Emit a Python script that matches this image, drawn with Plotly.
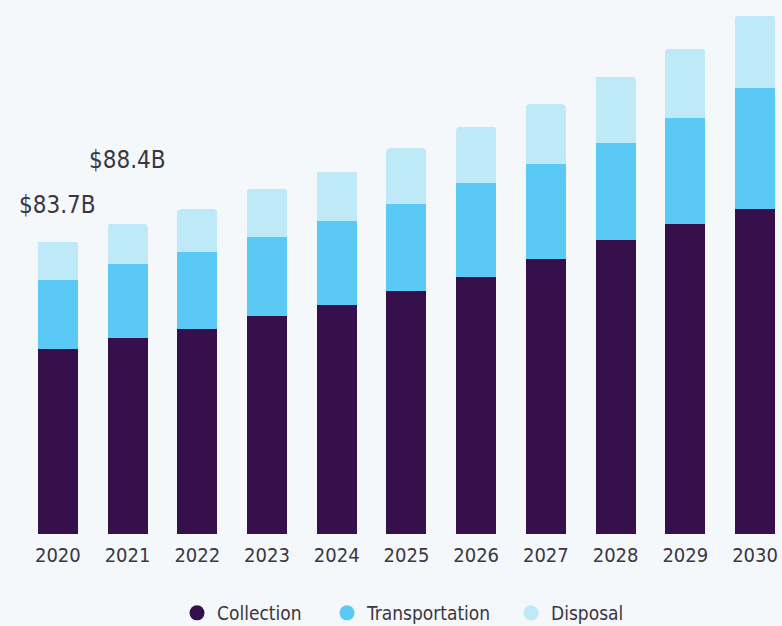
import plotly.graph_objects as go

years = ["2020", "2021", "2022", "2023", "2024", "2025", "2026", "2027", "2028", "2029", "2030"]
collection = [52.9, 56.1, 58.8, 62.6, 65.6, 69.7, 73.7, 78.9, 84.2, 88.9, 93.0]
transportation = [19.9, 21.2, 22.1, 22.5, 24.0, 25.0, 27.0, 27.1, 27.8, 30.2, 34.7]
disposal = [11.0, 11.5, 12.1, 13.8, 14.2, 15.8, 15.9, 17.1, 19.1, 19.8, 20.8]
value_labels = {"2020": "$83.7B", "2021": "$88.4B"}
label_shift = {"2020": 37, "2021": 64}

series_names = ["Collection", "Transportation", "Disposal"]
colors = ["#36104a", "#5bc9f5", "#bde9f9"]
FONT = '"Liberation Sans Narrow", "Arial Narrow", "DejaVu Sans Condensed", Roboto, sans-serif'
TEXT = "#3b3641"
BG = "#f4f8fb"
legend_ids = ["legend", "legend2", "legend3"]
legend_left_px = [177, 327, 511]

fig = go.Figure()
for name, vals, c in zip(series_names, [collection, transportation, disposal], colors):
    fig.add_trace(go.Bar(x=years, y=vals, name=name, marker=dict(color=c, line=dict(width=0)),
                         showlegend=False, hoverinfo="skip"))
for name, c, lid in zip(series_names, colors, legend_ids):
    fig.add_trace(go.Scatter(x=[None], y=[None], mode="markers", name=name, legend=lid,
                             marker=dict(symbol="circle", size=15, color=c)))

totals = [a + b + d for a, b, d in zip(collection, transportation, disposal)]
for yr, txt in value_labels.items():
    i = years.index(yr)
    fig.add_annotation(x=i, y=totals[i], text=txt, showarrow=False, yanchor="middle",
                       yshift=label_shift[yr], font=dict(family=FONT, size=24, color=TEXT))

legend_common = dict(orientation="h", yref="container", xref="container", y=1 - 613 / 626,
                     yanchor="middle", xanchor="left",
                     font=dict(family=FONT, size=19, color=TEXT), bgcolor="rgba(0,0,0,0)")
layout_legends = {lid: dict(legend_common, x=px / 782) for lid, px in zip(legend_ids, legend_left_px)}

fig.update_layout(
    width=782, height=626,
    margin=dict(l=23, r=0, t=5, b=92),
    paper_bgcolor=BG, plot_bgcolor=BG,
    barmode="stack", bargap=0.426, barcornerradius=3,
    font=dict(family=FONT, color=TEXT),
    showlegend=True,
    **layout_legends,
)
fig.update_xaxes(type="category", range=[-0.5, 10.387], showgrid=False, zeroline=False, showline=False,
                 ticks="", tickfont=dict(family=FONT, size=20, color=TEXT), ticklabelstandoff=7)
fig.update_yaxes(range=[0, 151.6], visible=False, showgrid=False, zeroline=False)

fig.write_html("out.html", config={"displayModeBar": False},
               post_script="document.body.style.margin='0';document.body.style.background='%s';" % BG)
